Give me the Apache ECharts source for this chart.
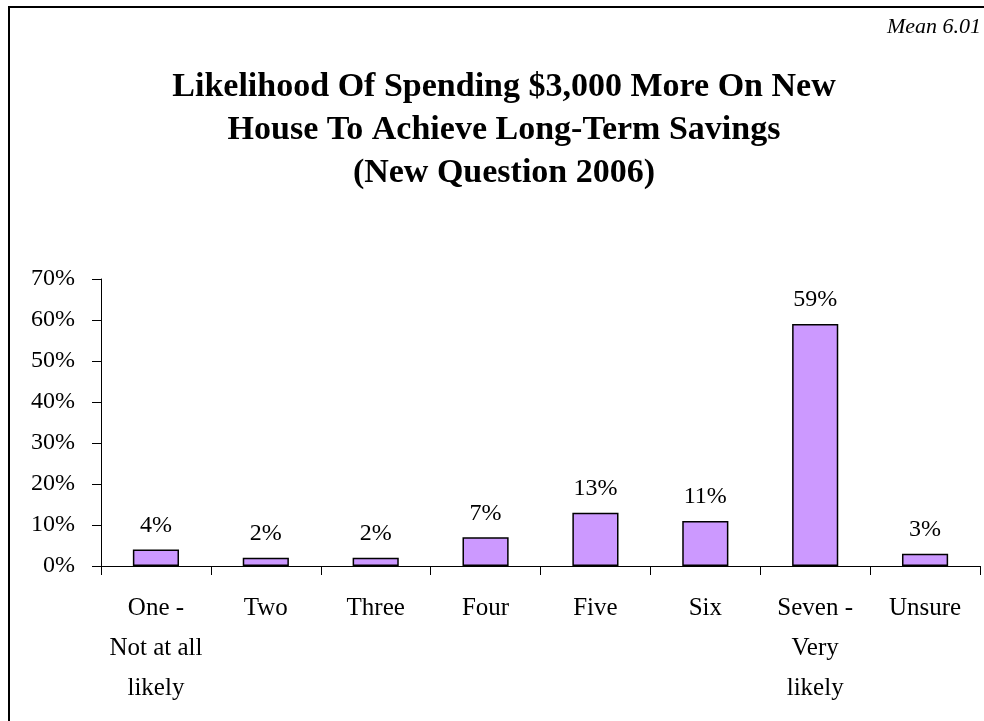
<!DOCTYPE html>
<html>
<head>
<meta charset="utf-8">
<script src="https://cdn.jsdelivr.net/npm/echarts@6/dist/echarts.min.js"></script>
<style>
  html, body { margin: 0; padding: 0; background: #fff; }
  #chart { width: 984px; height: 721px; }
</style>
</head>
<body>
<div id="chart"></div>
<script>
// Response categories and share of respondents (percent)
const categories = ['One -\nNot at all\nlikely', 'Two', 'Three', 'Four', 'Five', 'Six', 'Seven -\nVery\nlikely', 'Unsure'];
const shares = [4, 2, 2, 7, 13, 11, 59, 3];
const yTicks = [0, 10, 20, 30, 40, 50, 60, 70];
const titleLines = ['Likelihood Of Spending $3,000 More On New', 'House To Achieve Long-Term Savings', '(New Question 2006)'];
const meanNote = 'Mean 6.01';

const serif = '"Liberation Serif", "Times New Roman", serif';
const chart = echarts.init(document.getElementById('chart'));

chart.setOption({
  animation: false,
  backgroundColor: '#ffffff',
  grid: { left: 101, right: 4, top: 279, bottom: 155, containLabel: false },
  graphic: [
    {
      type: 'rect',
      shape: { x: 9, y: 7, width: 1100, height: 900 },
      style: { fill: 'none', stroke: '#000', lineWidth: 2 },
      silent: true
    },
    {
      type: 'text',
      x: 504, y: 130,
      style: {
        text: titleLines.join('\n'),
        font: 'bold 34px ' + serif,
        fill: '#000',
        align: 'center',
        verticalAlign: 'middle',
        lineHeight: 43
      }
    },
    {
      type: 'text',
      x: 981, y: 27,
      style: {
        text: meanNote,
        font: 'italic 22px ' + serif,
        fill: '#000',
        align: 'right',
        verticalAlign: 'middle'
      }
    }
  ],
  xAxis: {
    type: 'category',
    data: categories,
    axisLine: { lineStyle: { color: '#000', width: 1 } },
    axisTick: { show: true, length: 9, lineStyle: { color: '#000' } },
    axisLabel: {
      color: '#000', fontFamily: serif, fontSize: 25,
      lineHeight: 40, margin: 22, interval: 0
    }
  },
  yAxis: {
    type: 'value',
    min: 0, max: 70, interval: 10,
    axisLine: { show: true, lineStyle: { color: '#000', width: 1 } },
    axisTick: { show: true, length: 9, lineStyle: { color: '#000' } },
    splitLine: { show: false },
    axisLabel: {
      color: '#000', fontFamily: serif, fontSize: 24, margin: 26,
      formatter: v => yTicks.includes(v) ? v + '%' : ''
    }
  },
  series: [{
    type: 'bar',
    data: shares,
    barWidth: '42%',
    itemStyle: { color: '#CC99FF', borderColor: '#000', borderWidth: 1.5 },
    label: {
      show: true, position: 'top', distance: 12,
      color: '#000', fontFamily: serif, fontSize: 24,
      formatter: p => p.value + '%'
    }
  }]
});
</script>
</body>
</html>
